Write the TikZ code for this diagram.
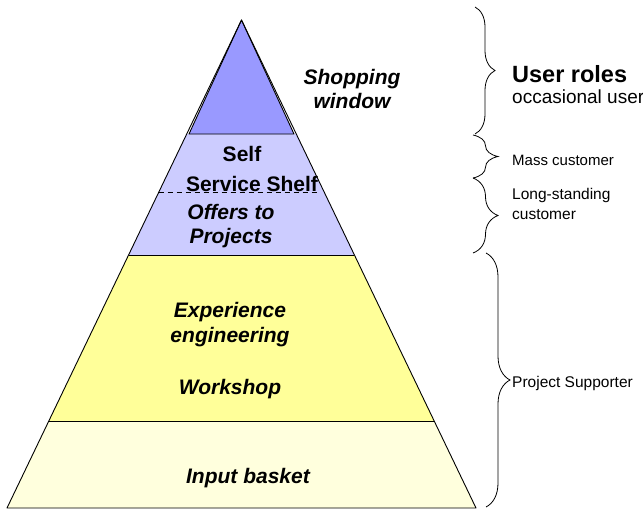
\documentclass[tikz,border=0pt]{standalone}
\usepackage{fontspec}
\setmainfont{Liberation Sans}
\usetikzlibrary{decorations.pathreplacing}
\definecolor{topviolet}{HTML}{9999FF}
\definecolor{paleviolet}{HTML}{CCCCFF}
\definecolor{midyellow}{HTML}{FFFF99}
\definecolor{paleyellow}{HTML}{FFFFDD}
\begin{document}
\begin{tikzpicture}[x=1pt,y=-1pt,
  band/.style={draw=black,line width=0.9pt,line join=round},
  layertext/.style={font=\fontsize{21}{24.5}\selectfont\bfseries\itshape,align=center,inner sep=0pt},
  plaintext/.style={font=\fontsize{21}{24.5}\selectfont\bfseries,align=center,inner sep=0pt},
  rolebrace/.style={draw=black,line width=0.8pt,decorate,decoration={brace,amplitude=#1,aspect=0.5}},
  roletext/.style={anchor=west,align=left,inner sep=0pt,font=\fontsize{15.5}{20}\selectfont}]
\useasboundingbox (0,0) rectangle (643,509);

% pyramid bands, bottom to top
\fill[paleyellow] (7,508) -- (48.8,421) -- (434.2,421) -- (476,508) -- cycle;
\fill[midyellow] (48.8,421) -- (128.6,255) -- (354.4,255) -- (434.2,421) -- cycle;
\fill[paleviolet] (128.6,255) -- (186.7,134) -- (296.3,134) -- (354.4,255) -- cycle;
\draw[band,fill=topviolet] (241.5,20) -- (189,134) -- (294,134) -- cycle;
\draw[band] (48.8,421) -- (434.2,421);
\draw[band] (128.6,255) -- (354.4,255);
\draw[band] (7,508) -- (241.5,20) -- (476,508) -- cycle;
\draw[line width=0.8pt,dash pattern=on 5pt off 4pt] (158.6,192.5) -- (318,192.5);

% layer labels
\node[layertext] (shop) at (352,89) {Shopping\\window};
\node[plaintext] (self) at (242,154) {Self};
\node[plaintext] (shelf) at (252,184) {Service Shelf};
\node[layertext] (offers) at (231,226) {Offers to\\Projects};
\node[layertext] (exper) at (230,324.5) {Experience\\engineering};
\node[layertext] (work) at (230,389) {Workshop};
\node[layertext] (input) at (248,478) {Input basket};

% user role braces
\coordinate (b1s) at (475,7);   \coordinate (b1e) at (475,134);
\coordinate (b2s) at (473,135); \coordinate (b2e) at (473,178);
\coordinate (b3s) at (473,178); \coordinate (b3e) at (473,253);
\coordinate (b4s) at (486,253); \coordinate (b4e) at (486,507);
\draw[rolebrace=20pt] (b1s) -- (b1e);
\draw[rolebrace=25pt] (b2s) -- (b2e);
\draw[rolebrace=25pt] (b3s) -- (b3e);
\draw[rolebrace=24pt] (b4s) -- (b4e);

% role labels
\node[roletext,font=\fontsize{23.5}{26}\selectfont\bfseries] (roles) at (512,74) {User roles};
\node[roletext,font=\fontsize{19}{22}\selectfont] (occas) at (512,97) {occasional user};
\node[roletext,font=\fontsize{15}{20}\selectfont] (mass) at (512,160) {Mass customer};
\node[roletext] (long) at (512,204) {Long-standing\\customer};
\node[roletext] (proj) at (512,383) {Project Supporter};
\end{tikzpicture}
\end{document}
